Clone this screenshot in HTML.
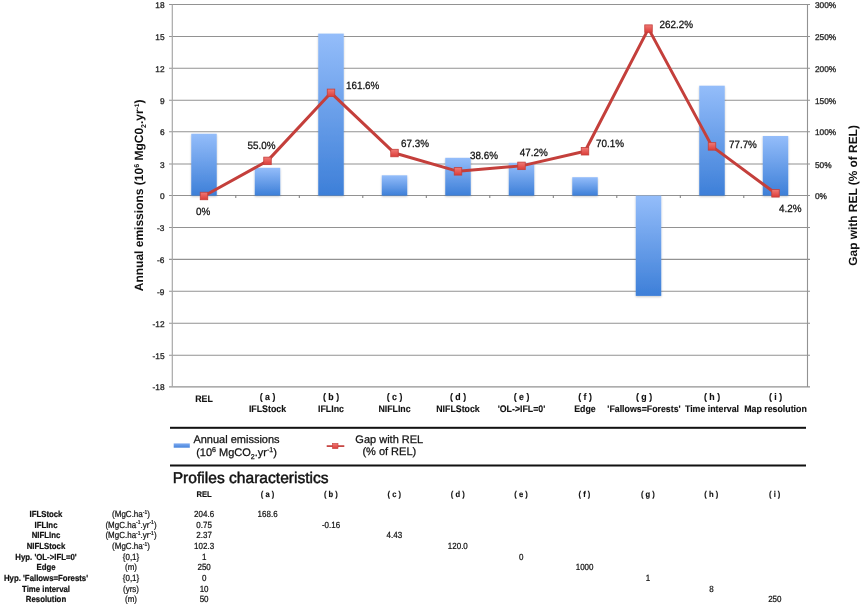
<!DOCTYPE html>
<html><head><meta charset="utf-8"><style>
html,body{margin:0;padding:0;background:#fff;}
body{width:864px;height:608px;overflow:hidden;}
svg{display:block;will-change:transform;text-rendering:geometricPrecision;font-family:"Liberation Sans",sans-serif;}
</style></head><body>
<svg width="864" height="608" viewBox="0 0 864 608">
<defs>
<linearGradient id="bg" x1="0" y1="0" x2="0" y2="1">
<stop offset="0" stop-color="#94bdfa"/><stop offset="1" stop-color="#3d7fd8"/>
</linearGradient>
<linearGradient id="sw" x1="0" y1="0" x2="0" y2="1"><stop offset="0" stop-color="#7eaaf0"/><stop offset="1" stop-color="#4684dc"/></linearGradient>
<linearGradient id="mg" x1="0" y1="0" x2="0" y2="1">
<stop offset="0" stop-color="#f07a76"/><stop offset="1" stop-color="#dc3c38"/>
</linearGradient>
<filter id="sh" x="-20%" y="-20%" width="140%" height="140%"><feGaussianBlur in="SourceAlpha" stdDeviation="0.9"/><feOffset dy="1.3"/><feComponentTransfer><feFuncA type="linear" slope="0.22"/></feComponentTransfer><feMerge><feMergeNode/><feMergeNode in="SourceGraphic"/></feMerge></filter>
</defs>
<rect width="864" height="608" fill="#fff"/>

<g stroke="#929292" stroke-width="1.1">
<line x1="169" y1="4.50" x2="810" y2="4.50"/>
<line x1="169" y1="36.50" x2="810" y2="36.50"/>
<line x1="169" y1="68.30" x2="810" y2="68.30"/>
<line x1="169" y1="100.20" x2="810" y2="100.20"/>
<line x1="169" y1="131.80" x2="810" y2="131.80"/>
<line x1="169" y1="164.00" x2="810" y2="164.00"/>
<line x1="169" y1="195.50" x2="810" y2="195.50"/>
<line x1="169" y1="227.50" x2="810" y2="227.50"/>
<line x1="169" y1="259.40" x2="810" y2="259.40"/>
<line x1="169" y1="291.30" x2="810" y2="291.30"/>
<line x1="169" y1="323.20" x2="810" y2="323.20"/>
<line x1="169" y1="355.30" x2="810" y2="355.30"/>
<line x1="169" y1="386.90" x2="810" y2="386.90"/>
<line x1="807.5" y1="4.5" x2="807.5" y2="386.9"/>
</g>
<line x1="172.3" y1="4.5" x2="172.3" y2="386.9" stroke="#a8a8a8" stroke-width="1.2"/>
<g stroke="#7a7a7a" stroke-width="1">
<line x1="235.80" y1="195.5" x2="235.80" y2="198"/>
<line x1="299.30" y1="195.5" x2="299.30" y2="198"/>
<line x1="362.80" y1="195.5" x2="362.80" y2="198"/>
<line x1="426.30" y1="195.5" x2="426.30" y2="198"/>
<line x1="489.80" y1="195.5" x2="489.80" y2="198"/>
<line x1="553.30" y1="195.5" x2="553.30" y2="198"/>
<line x1="616.80" y1="195.5" x2="616.80" y2="198"/>
<line x1="680.30" y1="195.5" x2="680.30" y2="198"/>
<line x1="743.80" y1="195.5" x2="743.80" y2="198"/>
</g>
<g font-size="8.3" fill="#222" stroke="#222" stroke-width="0.3">
<text x="164.5" y="8.00" text-anchor="end">18</text>
<text x="164.5" y="40.00" text-anchor="end">15</text>
<text x="164.5" y="71.80" text-anchor="end">12</text>
<text x="164.5" y="103.70" text-anchor="end">9</text>
<text x="164.5" y="135.30" text-anchor="end">6</text>
<text x="164.5" y="167.50" text-anchor="end">3</text>
<text x="164.5" y="199.00" text-anchor="end">0</text>
<text x="164.5" y="231.00" text-anchor="end">-3</text>
<text x="164.5" y="262.90" text-anchor="end">-6</text>
<text x="164.5" y="294.80" text-anchor="end">-9</text>
<text x="164.5" y="326.70" text-anchor="end">-12</text>
<text x="164.5" y="358.80" text-anchor="end">-15</text>
<text x="164.5" y="390.40" text-anchor="end">-18</text>
<text x="815" y="8.00">300%</text>
<text x="815" y="40.00">250%</text>
<text x="815" y="71.80">200%</text>
<text x="815" y="103.70">150%</text>
<text x="815" y="135.30">100%</text>
<text x="815" y="167.50">50%</text>
<text x="815" y="199.00">0%</text>
</g>
<g filter="url(#sh)">
<rect x="191.25" y="133.75" width="25.5" height="61.85" fill="url(#bg)"/>
<rect x="254.75" y="167.80" width="25.5" height="27.80" fill="url(#bg)"/>
<rect x="318.25" y="33.60" width="25.5" height="162.00" fill="url(#bg)"/>
<rect x="381.75" y="175.30" width="25.5" height="20.30" fill="url(#bg)"/>
<rect x="445.25" y="157.80" width="25.5" height="37.80" fill="url(#bg)"/>
<rect x="508.75" y="162.80" width="25.5" height="32.80" fill="url(#bg)"/>
<rect x="572.25" y="177.20" width="25.5" height="18.40" fill="url(#bg)"/>
<rect x="635.75" y="195.60" width="25.5" height="100.30" fill="url(#bg)"/>
<rect x="699.25" y="85.70" width="25.5" height="109.90" fill="url(#bg)"/>
<rect x="762.75" y="136.00" width="25.5" height="59.60" fill="url(#bg)"/>
</g>
<polyline points="204.00,196.00 267.50,160.89 331.00,92.85 394.50,153.04 458.00,171.36 521.50,165.87 585.00,151.25 648.50,28.63 712.00,146.40 775.50,193.32" fill="none" stroke="#c43f3b" stroke-width="3" stroke-linejoin="round"/>
<rect x="200.25" y="192.25" width="7.5" height="7.5" fill="url(#mg)" stroke="#c43f3b" stroke-width="0.8"/>
<rect x="263.75" y="157.14" width="7.5" height="7.5" fill="url(#mg)" stroke="#c43f3b" stroke-width="0.8"/>
<rect x="327.25" y="89.10" width="7.5" height="7.5" fill="url(#mg)" stroke="#c43f3b" stroke-width="0.8"/>
<rect x="390.75" y="149.29" width="7.5" height="7.5" fill="url(#mg)" stroke="#c43f3b" stroke-width="0.8"/>
<rect x="454.25" y="167.61" width="7.5" height="7.5" fill="url(#mg)" stroke="#c43f3b" stroke-width="0.8"/>
<rect x="517.75" y="162.12" width="7.5" height="7.5" fill="url(#mg)" stroke="#c43f3b" stroke-width="0.8"/>
<rect x="581.25" y="147.50" width="7.5" height="7.5" fill="url(#mg)" stroke="#c43f3b" stroke-width="0.8"/>
<rect x="644.75" y="24.88" width="7.5" height="7.5" fill="url(#mg)" stroke="#c43f3b" stroke-width="0.8"/>
<rect x="708.25" y="142.65" width="7.5" height="7.5" fill="url(#mg)" stroke="#c43f3b" stroke-width="0.8"/>
<rect x="771.75" y="189.57" width="7.5" height="7.5" fill="url(#mg)" stroke="#c43f3b" stroke-width="0.8"/>
<g font-size="9.9" fill="#111" stroke="#111" stroke-width="0.25">
<text transform="translate(196,215.10000000000002) scale(1,1.06)">0%</text>
<text transform="translate(247.6,148.8) scale(1,1.06)">55.0%</text>
<text transform="translate(345.9,89.0) scale(1,1.06)">161.6%</text>
<text transform="translate(401.1,147.20000000000002) scale(1,1.06)">67.3%</text>
<text transform="translate(470,159.3) scale(1,1.06)">38.6%</text>
<text transform="translate(519.7,156.0) scale(1,1.06)">47.2%</text>
<text transform="translate(596.1,147.20000000000002) scale(1,1.06)">70.1%</text>
<text transform="translate(659.6,27.8) scale(1,1.06)">262.2%</text>
<text transform="translate(728.9,148.20000000000002) scale(1,1.06)">77.7%</text>
<text transform="translate(779,211.70000000000002) scale(1,1.06)">4.2%</text>
</g>
<text transform="translate(143.4,195.4) rotate(-90)" text-anchor="middle" font-size="12" font-weight="bold" fill="#111">Annual emissions (10<tspan font-size="7" dy="-4.5">6</tspan><tspan dy="4.5"> MgC0</tspan><tspan font-size="7" dy="2.5">2</tspan><tspan dy="-2.5">.yr</tspan><tspan font-size="6.5" dy="-4.5">-1</tspan><tspan dy="4.5">)</tspan></text>
<text transform="translate(857.0,195.4) rotate(-90)" text-anchor="middle" font-size="11.9" font-weight="bold" fill="#111">Gap with REL (% of REL)</text>
<g font-size="8.8" font-weight="bold" fill="#111" stroke="#111" stroke-width="0.12" text-anchor="middle">
<text transform="translate(204.0,401.6) scale(1,1.08)">REL</text>
<text transform="translate(267.5,400.4) scale(1,1.08)">( a )</text>
<text transform="translate(267.5,411.8) scale(1,1.08)">IFLStock</text>
<text transform="translate(331.0,400.4) scale(1,1.08)">( b )</text>
<text transform="translate(331.0,411.8) scale(1,1.08)">IFLInc</text>
<text transform="translate(394.5,400.4) scale(1,1.08)">( c )</text>
<text transform="translate(394.5,411.8) scale(1,1.08)">NIFLInc</text>
<text transform="translate(458.0,400.4) scale(1,1.08)">( d )</text>
<text transform="translate(458.0,411.8) scale(1,1.08)">NIFLStock</text>
<text transform="translate(521.5,400.4) scale(1,1.08)">( e )</text>
<text transform="translate(521.5,411.8) scale(1,1.08)">'OL-&gt;IFL=0'</text>
<text transform="translate(585.0,400.4) scale(1,1.08)">( f )</text>
<text transform="translate(585.0,411.8) scale(1,1.08)">Edge</text>
<text transform="translate(644,400.4) scale(1,1.08)">( g )</text>
<text transform="translate(644,411.8) scale(1,1.08)">'Fallows=Forests'</text>
<text transform="translate(712.0,400.4) scale(1,1.08)">( h )</text>
<text transform="translate(712.0,411.8) scale(1,1.08)">Time interval</text>
<text transform="translate(775.5,400.4) scale(1,1.08)">( i )</text>
<text transform="translate(775.5,411.8) scale(1,1.08)">Map resolution</text>
</g>
<rect x="170" y="426.8" width="636" height="2" fill="#111"/>
<rect x="170" y="464.5" width="636" height="2" fill="#111"/>
<rect x="173.7" y="443.4" width="16.1" height="4.3" fill="url(#sw)"/>
<line x1="326.7" y1="446.1" x2="344.3" y2="446.1" stroke="#c43f3b" stroke-width="1.7"/>
<rect x="332.5" y="443.4" width="5.5" height="5.2" fill="url(#mg)" stroke="#c43f3b" stroke-width="0.6"/>
<g font-size="11" fill="#111" stroke="#111" stroke-width="0.25" text-anchor="middle">
<text x="236.5" y="442.6">Annual emissions</text>
<text x="236.5" y="456">(10<tspan font-size="7" dy="-4">6</tspan><tspan dy="4"> MgCO</tspan><tspan font-size="7" dy="2.5">2</tspan><tspan dy="-2.5">.yr</tspan><tspan font-size="7" dy="-4">-1</tspan><tspan dy="4">)</tspan></text>
<text x="389.3" y="442.8">Gap with REL</text>
<text x="389.3" y="455">(% of REL)</text>
</g>
<text x="172.7" y="482.8" font-size="15.6" fill="#111" stroke="#111" stroke-width="0.45">Profiles characteristics</text>
<g font-size="7.6" font-weight="bold" fill="#111" stroke="#111" stroke-width="0.15" text-anchor="middle">
<text transform="translate(204.10,497) scale(1,1.1)">REL</text>
<text transform="translate(267.50,497) scale(1,1.1)">( a )</text>
<text transform="translate(330.90,497) scale(1,1.1)">( b )</text>
<text transform="translate(394.30,497) scale(1,1.1)">( c )</text>
<text transform="translate(457.70,497) scale(1,1.1)">( d )</text>
<text transform="translate(521.10,497) scale(1,1.1)">( e )</text>
<text transform="translate(584.50,497) scale(1,1.1)">( f )</text>
<text transform="translate(647.90,497) scale(1,1.1)">( g )</text>
<text transform="translate(711.30,497) scale(1,1.1)">( h )</text>
<text transform="translate(774.70,497) scale(1,1.1)">( i )</text>
</g>
<text transform="translate(46,516.90) scale(1,1.12)" font-size="7.8" font-weight="bold" fill="#111" stroke="#111" stroke-width="0.2" text-anchor="middle">IFLStock</text>
<text transform="translate(131,516.90) scale(1,1.12)" font-size="8" fill="#111" stroke="#111" stroke-width="0.2" text-anchor="middle">(MgC.ha<tspan font-size="5" dy="-3">-1</tspan><tspan dy="3">)</tspan></text>
<text transform="translate(204.1,516.90) scale(1,1.12)" font-size="8" fill="#111" stroke="#111" stroke-width="0.2" text-anchor="middle">204.6</text>
<text transform="translate(267.6,516.90) scale(1,1.12)" font-size="8" fill="#111" stroke="#111" stroke-width="0.2" text-anchor="middle">168.6</text>
<text transform="translate(46,527.58) scale(1,1.12)" font-size="7.8" font-weight="bold" fill="#111" stroke="#111" stroke-width="0.2" text-anchor="middle">IFLInc</text>
<text transform="translate(131,527.58) scale(1,1.12)" font-size="8" fill="#111" stroke="#111" stroke-width="0.2" text-anchor="middle">(MgC.ha<tspan font-size="5" dy="-3">-1</tspan><tspan dy="3">.yr</tspan><tspan font-size="5" dy="-3">-1</tspan><tspan dy="3">)</tspan></text>
<text transform="translate(204.1,527.58) scale(1,1.12)" font-size="8" fill="#111" stroke="#111" stroke-width="0.2" text-anchor="middle">0.75</text>
<text transform="translate(331.0,527.58) scale(1,1.12)" font-size="8" fill="#111" stroke="#111" stroke-width="0.2" text-anchor="middle">-0.16</text>
<text transform="translate(46,538.26) scale(1,1.12)" font-size="7.8" font-weight="bold" fill="#111" stroke="#111" stroke-width="0.2" text-anchor="middle">NIFLInc</text>
<text transform="translate(131,538.26) scale(1,1.12)" font-size="8" fill="#111" stroke="#111" stroke-width="0.2" text-anchor="middle">(MgC.ha<tspan font-size="5" dy="-3">-1</tspan><tspan dy="3">.yr</tspan><tspan font-size="5" dy="-3">-1</tspan><tspan dy="3">)</tspan></text>
<text transform="translate(204.1,538.26) scale(1,1.12)" font-size="8" fill="#111" stroke="#111" stroke-width="0.2" text-anchor="middle">2.37</text>
<text transform="translate(394.4,538.26) scale(1,1.12)" font-size="8" fill="#111" stroke="#111" stroke-width="0.2" text-anchor="middle">4.43</text>
<text transform="translate(46,548.94) scale(1,1.12)" font-size="7.8" font-weight="bold" fill="#111" stroke="#111" stroke-width="0.2" text-anchor="middle">NIFLStock</text>
<text transform="translate(131,548.94) scale(1,1.12)" font-size="8" fill="#111" stroke="#111" stroke-width="0.2" text-anchor="middle">(MgC.ha<tspan font-size="5" dy="-3">-1</tspan><tspan dy="3">)</tspan></text>
<text transform="translate(204.1,548.94) scale(1,1.12)" font-size="8" fill="#111" stroke="#111" stroke-width="0.2" text-anchor="middle">102.3</text>
<text transform="translate(457.8,548.94) scale(1,1.12)" font-size="8" fill="#111" stroke="#111" stroke-width="0.2" text-anchor="middle">120.0</text>
<text transform="translate(46,559.62) scale(1,1.12)" font-size="7.8" font-weight="bold" fill="#111" stroke="#111" stroke-width="0.2" text-anchor="middle">Hyp. 'OL-&gt;IFL=0'</text>
<text transform="translate(131,559.62) scale(1,1.12)" font-size="8" fill="#111" stroke="#111" stroke-width="0.2" text-anchor="middle">{0,1}</text>
<text transform="translate(204.1,559.62) scale(1,1.12)" font-size="8" fill="#111" stroke="#111" stroke-width="0.2" text-anchor="middle">1</text>
<text transform="translate(521.2,559.62) scale(1,1.12)" font-size="8" fill="#111" stroke="#111" stroke-width="0.2" text-anchor="middle">0</text>
<text transform="translate(46,570.30) scale(1,1.12)" font-size="7.8" font-weight="bold" fill="#111" stroke="#111" stroke-width="0.2" text-anchor="middle">Edge</text>
<text transform="translate(131,570.30) scale(1,1.12)" font-size="8" fill="#111" stroke="#111" stroke-width="0.2" text-anchor="middle">(m)</text>
<text transform="translate(204.1,570.30) scale(1,1.12)" font-size="8" fill="#111" stroke="#111" stroke-width="0.2" text-anchor="middle">250</text>
<text transform="translate(584.6,570.30) scale(1,1.12)" font-size="8" fill="#111" stroke="#111" stroke-width="0.2" text-anchor="middle">1000</text>
<text transform="translate(46,580.98) scale(1,1.12)" font-size="7.8" font-weight="bold" fill="#111" stroke="#111" stroke-width="0.2" text-anchor="middle">Hyp. 'Fallows=Forests'</text>
<text transform="translate(131,580.98) scale(1,1.12)" font-size="8" fill="#111" stroke="#111" stroke-width="0.2" text-anchor="middle">{0,1}</text>
<text transform="translate(204.1,580.98) scale(1,1.12)" font-size="8" fill="#111" stroke="#111" stroke-width="0.2" text-anchor="middle">0</text>
<text transform="translate(648.0,580.98) scale(1,1.12)" font-size="8" fill="#111" stroke="#111" stroke-width="0.2" text-anchor="middle">1</text>
<text transform="translate(46,591.66) scale(1,1.12)" font-size="7.8" font-weight="bold" fill="#111" stroke="#111" stroke-width="0.2" text-anchor="middle">Time interval</text>
<text transform="translate(131,591.66) scale(1,1.12)" font-size="8" fill="#111" stroke="#111" stroke-width="0.2" text-anchor="middle">(yrs)</text>
<text transform="translate(204.1,591.66) scale(1,1.12)" font-size="8" fill="#111" stroke="#111" stroke-width="0.2" text-anchor="middle">10</text>
<text transform="translate(711.4,591.66) scale(1,1.12)" font-size="8" fill="#111" stroke="#111" stroke-width="0.2" text-anchor="middle">8</text>
<text transform="translate(46,602.34) scale(1,1.12)" font-size="7.8" font-weight="bold" fill="#111" stroke="#111" stroke-width="0.2" text-anchor="middle">Resolution</text>
<text transform="translate(131,602.34) scale(1,1.12)" font-size="8" fill="#111" stroke="#111" stroke-width="0.2" text-anchor="middle">(m)</text>
<text transform="translate(204.1,602.34) scale(1,1.12)" font-size="8" fill="#111" stroke="#111" stroke-width="0.2" text-anchor="middle">50</text>
<text transform="translate(774.8,602.34) scale(1,1.12)" font-size="8" fill="#111" stroke="#111" stroke-width="0.2" text-anchor="middle">250</text>
</svg>
</body></html>
